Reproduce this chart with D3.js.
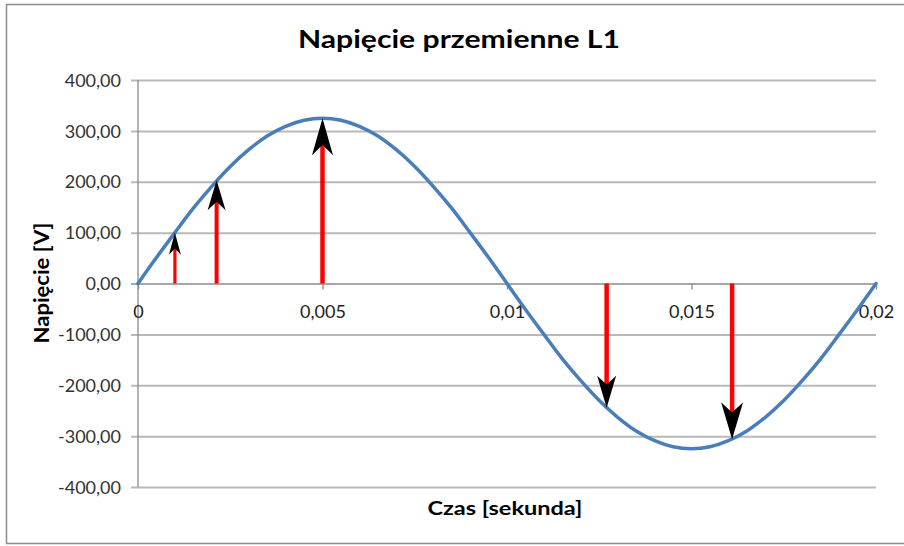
<!DOCTYPE html>
<html>
<head>
<meta charset="utf-8">
<script src="https://cdn.jsdelivr.net/npm/d3@7"></script>
<style>
  html, body { margin: 0; padding: 0; background: #fff; }
  svg { display: block; }
</style>
</head>
<body>
<svg id="chart" width="904" height="546"></svg>
<script>
// Sampled L1 voltage over one 50 Hz period (s, V)
const times = [
  0, 0.0005, 0.001, 0.0015, 0.002, 0.0025, 0.003, 0.0035, 0.004, 0.0045,
  0.005, 0.0055, 0.006, 0.0065, 0.007, 0.0075, 0.008, 0.0085, 0.009, 0.0095,
  0.01, 0.0105, 0.011, 0.0115, 0.012, 0.0125, 0.013, 0.0135, 0.014, 0.0145,
  0.015, 0.0155, 0.016, 0.0165, 0.017, 0.0175, 0.018, 0.0185, 0.019, 0.0195,
  0.02
];
const voltages = [
  0, 51, 100, 148, 191, 230, 263, 290, 309, 321,
  325, 321, 309, 290, 263, 230, 191, 148, 100, 51,
  0, -51, -100, -148, -191, -230, -263, -290, -309, -321,
  -325, -321, -309, -290, -263, -230, -191, -148, -100, -51,
  0
];

// Instantaneous-value arrows (time, voltage)
const arrowTimes = [0.001, 0.00213, 0.005, 0.0127, 0.0161];
const arrowValues = [100, 203, 325, -244, -306];

// Axis ticks
const yTicks = [-400, -300, -200, -100, 0, 100, 200, 300, 400];
const yTickLabels = ["-400,00", "-300,00", "-200,00", "-100,00", "0,00", "100,00", "200,00", "300,00", "400,00"];
const xTicks = [0, 0.005, 0.01, 0.015, 0.02];
const xTickLabels = ["0", "0,005", "0,01", "0,015", "0,02"];

const titleText = "Napięcie przemienne L1";
const xTitle = "Czas [sekunda]";
const yTitle = "Napięcie [V]";

// ---- layout ----
const svg = d3.select("#chart");
const plot = { left: 138, right: 876, top: 80, bottom: 487 };
const x = d3.scaleLinear().domain([0, 0.02]).range([plot.left, plot.right]);
const y = d3.scaleLinear().domain([-400, 400]).range([plot.bottom, plot.top]);

const FONT = "Lato, 'Open Sans', sans-serif";

// outer frame
svg.append("rect")
  .attr("x", 6.5).attr("y", 4.5).attr("width", 910).attr("height", 539)
  .attr("fill", "#fff").attr("stroke", "#8c8c8c").attr("stroke-width", 1.5);

// horizontal gridlines (extend left as tick marks)
const yAxis = d3.axisLeft(y)
  .tickValues(yTicks)
  .tickSize(-(plot.right - plot.left) - 7)
  .tickFormat((d, i) => yTickLabels[i]);

const gy = svg.append("g")
  .attr("transform", `translate(${plot.left - 7},0)`)
  .call(yAxis);
gy.select(".domain").remove();
gy.selectAll(".tick line")
  .attr("stroke", d => d === 0 ? "#8a8a8a" : "#b9b9b9")
  .attr("stroke-width", d => d === 0 ? 1.3 : 2);
gy.selectAll(".tick text")
  .attr("x", -10)
  .attr("dy", "0.34em")
  .attr("fill", "#333")
  .style("font-family", FONT)
  .style("font-size", "18px");

// vertical axis line
svg.append("line")
  .attr("x1", plot.left).attr("x2", plot.left)
  .attr("y1", plot.top).attr("y2", plot.bottom)
  .attr("stroke", "#8a8a8a").attr("stroke-width", 1.3);

// horizontal axis at zero with tick marks below
const xAxis = d3.axisBottom(x)
  .tickValues(xTicks)
  .tickSize(6)
  .tickFormat((d, i) => xTickLabels[i]);
const gx = svg.append("g")
  .attr("transform", `translate(0,${y(0)})`)
  .call(xAxis);
gx.select(".domain").remove();
gx.selectAll(".tick line").attr("stroke", "#8a8a8a").attr("stroke-width", 1.3);
gx.selectAll(".tick text")
  .attr("y", 0)
  .attr("dy", "34px")
  .attr("fill", "#222")
  .style("font-family", FONT)
  .style("font-size", "18px");

// voltage curve
const line = d3.line()
  .x((d, i) => x(times[i]))
  .y(d => y(d))
  .curve(d3.curveCatmullRom.alpha(0.5));

svg.append("path")
  .datum(voltages)
  .attr("d", line)
  .attr("fill", "none")
  .attr("stroke", "#4a7ebb")
  .attr("stroke-width", 3.5)
  .attr("stroke-linecap", "round");

// arrows: red shaft from zero, black dart head touching the curve
const arrowStyle = [
  { shaft: 3.2, len: 22, wid: 12 },
  { shaft: 4,   len: 30, wid: 18 },
  { shaft: 4.5, len: 37, wid: 21 },
  { shaft: 4.5, len: 32, wid: 19 },
  { shaft: 4.5, len: 37, wid: 22 }
];

const arrows = svg.append("g");
arrowTimes.forEach((t, i) => {
  const v = arrowValues[i];
  const s = arrowStyle[i];
  const ax = x(t);
  const tip = y(v);
  const dir = v > 0 ? 1 : -1;       // +1: pointing up
  const notch = tip + dir * s.len * 0.72;
  const back = tip + dir * s.len;
  arrows.append("line")
    .attr("x1", ax).attr("x2", ax)
    .attr("y1", y(0)).attr("y2", notch - dir * 2)
    .attr("stroke", "#ff0000")
    .attr("stroke-width", s.shaft);
  arrows.append("path")
    .attr("d", `M${ax},${tip} L${ax - s.wid / 2},${back} L${ax},${notch} L${ax + s.wid / 2},${back} Z`)
    .attr("fill", "#000");
});

// titles
svg.append("text")
  .attr("x", 459).attr("y", 48)
  .attr("text-anchor", "middle")
  .attr("textLength", 322).attr("lengthAdjust", "spacingAndGlyphs")
  .style("font-family", FONT).style("font-weight", "bold").style("font-size", "25px")
  .attr("fill", "#000")
  .text(titleText);

svg.append("text")
  .attr("x", 505).attr("y", 515)
  .attr("text-anchor", "middle")
  .attr("textLength", 155).attr("lengthAdjust", "spacingAndGlyphs")
  .style("font-family", FONT).style("font-weight", "bold").style("font-size", "19px")
  .attr("fill", "#000")
  .text(xTitle);

svg.append("text")
  .attr("transform", "translate(49,283) rotate(-90)")
  .attr("text-anchor", "middle")
  .attr("textLength", 121).attr("lengthAdjust", "spacingAndGlyphs")
  .style("font-family", FONT).style("font-weight", "bold").style("font-size", "20px")
  .attr("fill", "#000")
  .text(yTitle);
</script>
</body>
</html>
